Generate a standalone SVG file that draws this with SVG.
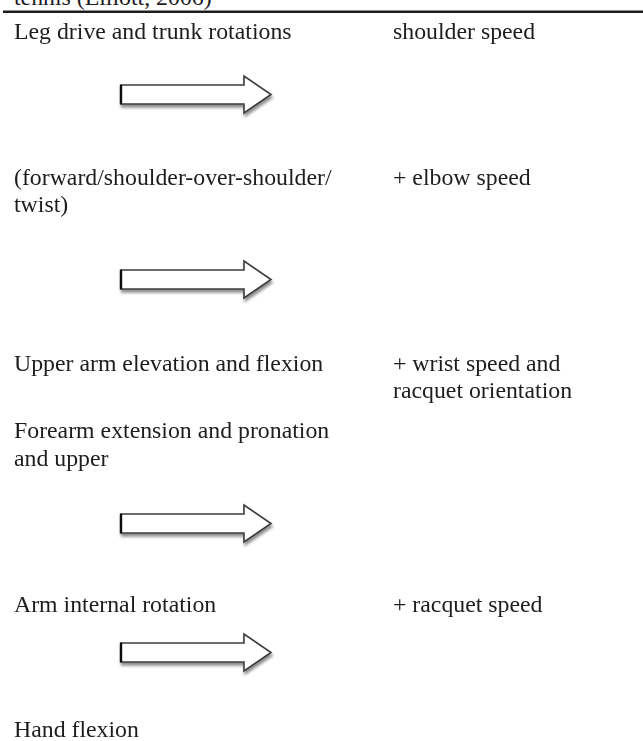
<svg xmlns="http://www.w3.org/2000/svg" width="643" height="741" viewBox="0 0 643 741">
  <style>
    .t { font-family: "Liberation Serif", "Times New Roman", serif; font-size: 23.8px; fill: #1f1c1d; }
    .arrow { fill: #ffffff; stroke: #3c3c3c; stroke-width: 1.6; stroke-linejoin: miter; }
    .arrow-edge { stroke: #111111; stroke-width: 2.4; fill: none; }
  </style>
  <defs>
    <filter id="shadow" x="-10%" y="-40%" width="125%" height="190%">
      <feGaussianBlur in="SourceAlpha" stdDeviation="1.6"/>
      <feOffset dx="1" dy="2.5" result="b"/>
      <feComponentTransfer><feFuncA type="linear" slope="0.45"/></feComponentTransfer>
      <feMerge><feMergeNode/><feMergeNode in="SourceGraphic"/></feMerge>
    </filter>
    <g id="blockArrow">
      <path class="arrow" d="M121,-9.5 L244,-9.5 L244,-18.5 L271,0 L244,18.5 L244,9.5 L121,9.5 Z"/>
      <line class="arrow-edge" x1="121" y1="-9.8" x2="121" y2="9.8"/>
    </g>
  </defs>
  <rect width="643" height="741" fill="#ffffff"/>

  <g id="header">
    <text class="t" x="14" y="4.5">tennis (Elliott, 2006)</text>
    <line x1="3" y1="11.7" x2="643" y2="11.7" stroke="#1f1c1d" stroke-width="2.6"/>
  </g>

  <g id="connectors" filter="url(#shadow)">
    <use href="#blockArrow" transform="translate(0,94.5)"/>
    <use href="#blockArrow" transform="translate(0,279.5)"/>
    <use href="#blockArrow" transform="translate(0,523.5)"/>
    <use href="#blockArrow" transform="translate(0,652.5)"/>
  </g>

  <g id="node-leg-drive"><text class="t" x="14" y="39.3">Leg drive and trunk rotations</text></g>
  <g id="node-shoulder-speed"><text class="t" x="393" y="39.3">shoulder speed</text></g>

  <g id="node-forward"><text class="t" x="14" y="185">(forward/shoulder-over-shoulder/<tspan x="14" y="212.3">twist)</tspan></text></g>
  <g id="node-elbow-speed"><text class="t" x="393" y="185">+ elbow speed</text></g>

  <g id="node-upper-arm"><text class="t" x="14" y="370.5">Upper arm elevation and flexion</text></g>
  <g id="node-wrist-speed"><text class="t" x="393" y="370.5">+ wrist speed and<tspan x="393" y="397.8">racquet orientation</tspan></text></g>

  <g id="node-forearm"><text class="t" x="14" y="438.3">Forearm extension and pronation<tspan x="14" y="465.6">and upper</tspan></text></g>

  <g id="node-arm-internal"><text class="t" x="14" y="612.3">Arm internal rotation</text></g>
  <g id="node-racquet-speed"><text class="t" x="393" y="612.3">+ racquet speed</text></g>

  <g id="node-hand-flexion"><text class="t" x="14" y="736.7">Hand flexion</text></g>
</svg>
